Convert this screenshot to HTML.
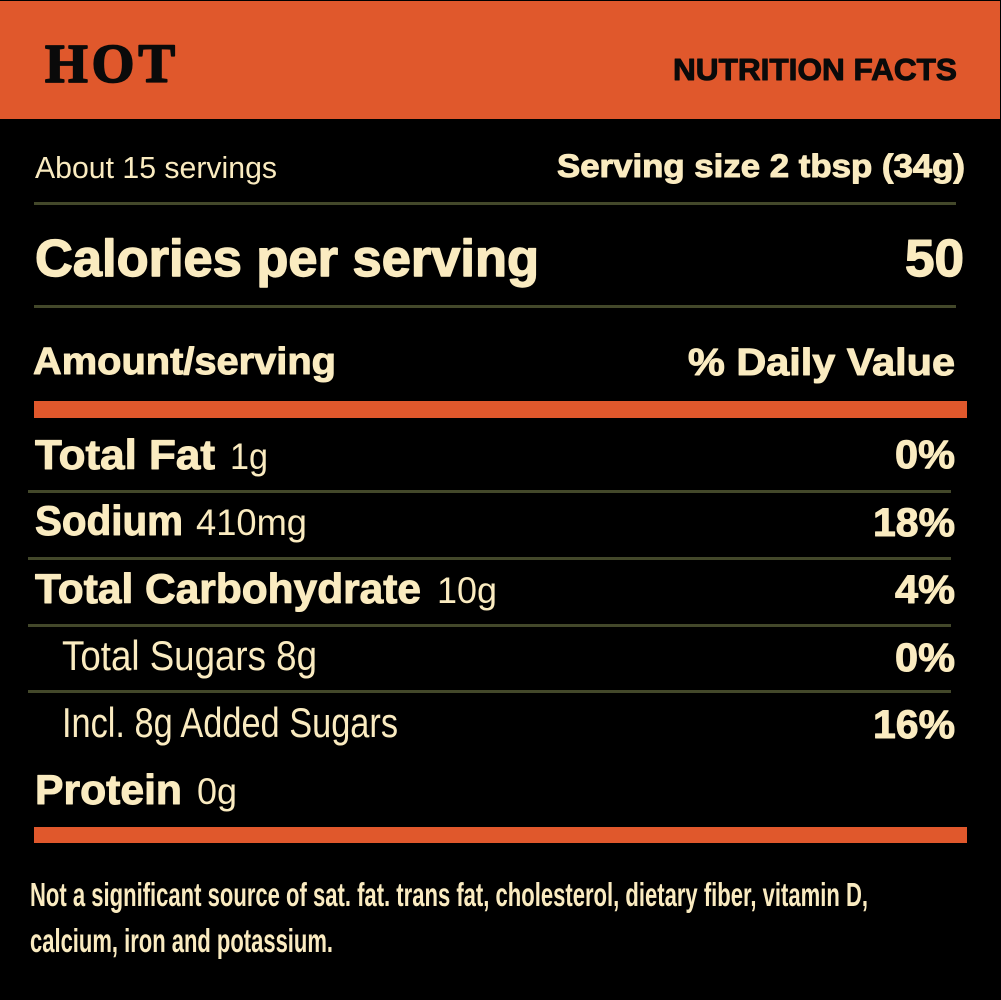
<!DOCTYPE html>
<html>
<head>
<meta charset="utf-8">
<style>
html,body{margin:0;padding:0;background:#000;}
svg{display:block;}
.s{font-family:"Liberation Sans",Arial,sans-serif;}
.c{fill:#FAEBC0;}
.b{font-weight:bold;stroke:#FAEBC0;stroke-width:1;stroke-linejoin:round;}
.bb{font-weight:bold;stroke:#FAEBC0;stroke-width:1.4;stroke-linejoin:round;}
</style>
</head>
<body>
<svg width="1001" height="1000" viewBox="0 0 1001 1000" xmlns="http://www.w3.org/2000/svg">
  <rect x="0" y="0" width="1001" height="1000" fill="#000"/>
  <!-- header -->
  <rect x="0" y="1" width="1000" height="118" fill="#E0582C"/>
  <text x="45" y="82" font-family="'Liberation Serif',serif" font-weight="bold" font-size="55" fill="#0a0a0a" stroke="#0a0a0a" stroke-width="1.8" stroke-linejoin="round" textLength="130" lengthAdjust="spacing">HOT</text>
  <text class="s" x="673" y="80" font-weight="bold" font-size="31" fill="#0a0a0a" stroke="#0a0a0a" stroke-width="1" stroke-linejoin="round" textLength="284" lengthAdjust="spacingAndGlyphs">NUTRITION FACTS</text>

  <!-- serving -->
  <text class="s c" x="35" y="178" font-size="31" textLength="242" lengthAdjust="spacingAndGlyphs">About 15 servings</text>
  <text class="s c b" x="557" y="177" font-size="32" textLength="408" lengthAdjust="spacingAndGlyphs">Serving size 2 tbsp (34g)</text>
  <rect x="34" y="202" width="922" height="3" fill="#43482A"/>

  <!-- calories -->
  <text class="s c bb" x="35" y="276" font-size="52" textLength="504" lengthAdjust="spacingAndGlyphs">Calories per serving</text>
  <text class="s c bb" x="905" y="276" font-size="52" textLength="59" lengthAdjust="spacingAndGlyphs">50</text>
  <rect x="34" y="305" width="922" height="3" fill="#43482A"/>

  <!-- amount -->
  <text class="s c b" x="33" y="374" font-size="38" textLength="303" lengthAdjust="spacingAndGlyphs">Amount/serving</text>
  <text class="s c b" x="688" y="375" font-size="38" textLength="267" lengthAdjust="spacingAndGlyphs">% Daily Value</text>
  <rect x="34" y="401" width="933" height="17" fill="#E0582C"/>

  <!-- Total Fat -->
  <text class="s c b" x="35" y="469" font-size="42" textLength="180" lengthAdjust="spacingAndGlyphs">Total Fat</text>
  <text class="s c" x="230" y="469" font-size="37" textLength="38" lengthAdjust="spacingAndGlyphs">1g</text>
  <text class="s c b" x="895" y="468" font-size="40" textLength="60" lengthAdjust="spacingAndGlyphs">0%</text>
  <rect x="28" y="490" width="923" height="3" fill="#43482A"/>

  <!-- Sodium -->
  <text class="s c b" x="35" y="535" font-size="42" textLength="148" lengthAdjust="spacingAndGlyphs">Sodium</text>
  <text class="s c" x="196" y="535" font-size="37" textLength="111" lengthAdjust="spacingAndGlyphs">410mg</text>
  <text class="s c b" x="873" y="536" font-size="40" textLength="82" lengthAdjust="spacingAndGlyphs">18%</text>
  <rect x="28" y="557" width="923" height="3" fill="#43482A"/>

  <!-- Total Carbohydrate -->
  <text class="s c b" x="35" y="603" font-size="42" textLength="386" lengthAdjust="spacingAndGlyphs">Total Carbohydrate</text>
  <text class="s c" x="437" y="603" font-size="37" textLength="60" lengthAdjust="spacingAndGlyphs">10g</text>
  <text class="s c b" x="895" y="603" font-size="40" textLength="60" lengthAdjust="spacingAndGlyphs">4%</text>
  <rect x="28" y="624" width="923" height="3" fill="#43482A"/>

  <!-- Total Sugars -->
  <text class="s c" x="62" y="670" font-size="42" textLength="255" lengthAdjust="spacingAndGlyphs">Total Sugars 8g</text>
  <text class="s c b" x="895" y="671" font-size="40" textLength="60" lengthAdjust="spacingAndGlyphs">0%</text>
  <rect x="28" y="690" width="923" height="3" fill="#43482A"/>

  <!-- Added Sugars -->
  <text class="s c" x="62" y="737" font-size="42" textLength="336" lengthAdjust="spacingAndGlyphs">Incl. 8g Added Sugars</text>
  <text class="s c b" x="873" y="738" font-size="40" textLength="82" lengthAdjust="spacingAndGlyphs">16%</text>

  <!-- Protein -->
  <text class="s c b" x="35" y="804" font-size="42" textLength="147" lengthAdjust="spacingAndGlyphs">Protein</text>
  <text class="s c" x="197" y="804" font-size="37" textLength="40" lengthAdjust="spacingAndGlyphs">0g</text>
  <rect x="34" y="827" width="933" height="16" fill="#E0582C"/>

  <!-- footnote -->
  <text class="s c" x="30" y="906" font-weight="bold" font-size="33" textLength="838" lengthAdjust="spacingAndGlyphs">Not a significant source of sat. fat. trans fat, cholesterol, dietary fiber, vitamin D,</text>
  <text class="s c" x="30" y="952" font-weight="bold" font-size="33" textLength="303" lengthAdjust="spacingAndGlyphs">calcium, iron and potassium.</text>
</svg>
</body>
</html>
